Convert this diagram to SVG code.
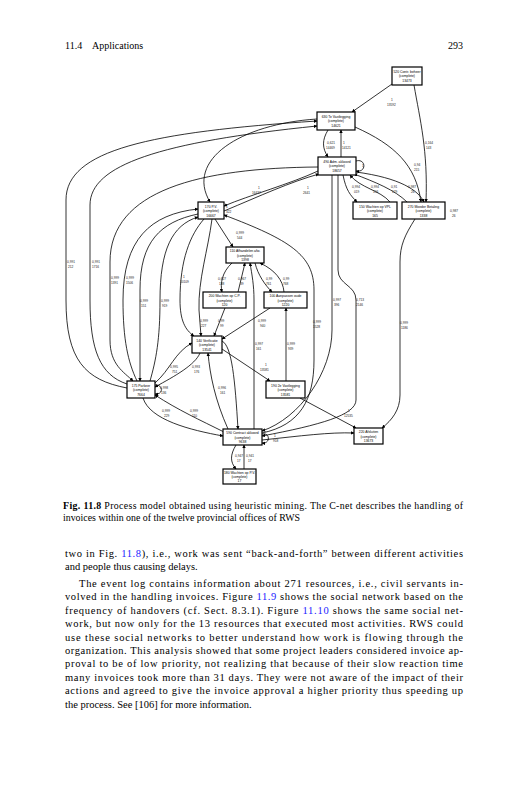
<svg xmlns="http://www.w3.org/2000/svg" width="527" height="800" viewBox="0 0 527 800">
<style>
.bg{fill:#fff}
.nb{fill:#fff;stroke:#000;stroke-width:1.2}
.nt{font-family:"Liberation Sans",Arial,sans-serif;font-size:3.4px;fill:#000;text-anchor:middle}
.e{fill:none;stroke:#000;stroke-width:0.8;marker-end:url(#ah)}
.el{font-family:"Liberation Sans",Arial,sans-serif;font-size:3.2px;fill:#222}
.pg{font-family:"Liberation Serif","Times New Roman",serif;fill:#000}
.lk{fill:#1a1aff}
</style>
<defs>
<marker id="ah" viewBox="0 0 10 10" refX="9" refY="5" markerWidth="3.6" markerHeight="3.6" markerUnits="userSpaceOnUse" orient="auto">
<path d="M0,0 L10,5 L0,10 z" fill="#000"/>
</marker>
</defs>
<rect class="bg" x="0" y="0" width="527" height="800"/>

<g id="header">
<text class="pg" x="65" y="49" font-size="10">11.4</text>
<text class="pg" x="92" y="49" font-size="10">Applications</text>
<text class="pg" x="463" y="49" font-size="10" text-anchor="end">293</text>
</g>

<g id="connectors">
<path class="e" d="M392,84 L352,112"/>
<path class="e" d="M414,85 C420,120 428,150 426,202"/>
<path class="e" d="M355,127 C395,145 416,165 421,202"/>
<path class="e" d="M328,130 C322,140 322,148 328,157"/>
<path class="e" d="M341,157 L341,130"/>
<path class="e" d="M356,161 C366,158 367,173 356,171"/>
<path class="e" d="M343,175 C346,190 350,195 357,202"/>
<path class="e" d="M390,202 C380,190 360,188 350,175"/>
<path class="e" d="M407,202 C395,190 375,182 354,174"/>
<path class="e" d="M356,172 C400,178 418,190 424,202"/>
<path class="e" d="M318,171 C290,184 250,195 224,206"/>
<path class="e" d="M224,211 C260,196 290,182 319,174"/>
<path class="e" d="M317,119 C240,124 185,160 210,202"/>
<path class="e" d="M127,388 C85,380 66,360 66,300 L66,200 C66,150 150,132 317,121"/>
<path class="e" d="M127,384 C100,375 90,350 90,300 L90,205 C90,165 160,142 317,126"/>
<path class="e" d="M318,167 C200,168 110,190 110,262 L110,340 C110,365 124,372 133,381"/>
<path class="e" d="M137,381 C128,362 123,340 123,300 C123,240 150,214 198,209"/>
<path class="e" d="M198,214 C160,222 140,242 140,290 L140,381"/>
<path class="e" d="M150,381 C156,360 160,340 160,300 C160,250 172,225 198,217"/>
<path class="e" d="M204,219 C190,235 180,260 180,300 C180,320 185,330 194,336"/>
<path class="e" d="M212,219 C208,250 198,280 199,310 L201,336"/>
<path class="e" d="M225,308 L214,336"/>
<path class="e" d="M270,308 L222,339"/>
<path class="e" d="M232,263 C222,272 220,284 222,292"/>
<path class="e" d="M238,292 L245,263"/>
<path class="e" d="M255,263 C258,275 265,285 272,292"/>
<path class="e" d="M284,292 C283,280 275,270 260,263"/>
<path class="e" d="M215,219 L233,247"/>
<path class="e" d="M262,433 C300,425 314,400 314,360 L314,290 C314,255 290,240 224,215"/>
<path class="e" d="M332,175 L332,330 C332,372 300,418 262,431"/>
<path class="e" d="M338,175 L338,270 C338,285 356,285 356,300 L356,400 C356,415 320,425 262,436"/>
<path class="e" d="M415,219 C405,235 400,245 400,262 L400,395 C400,410 392,420 382,428"/>
<path class="e" d="M300,398 L356,428"/>
<path class="e" d="M262,440 C300,436 330,432 354,433"/>
<path class="e" d="M262,434 C270,432 271,444 262,443"/>
<path class="e" d="M236,445 C230,455 230,462 236,469"/>
<path class="e" d="M244,469 L244,445"/>
<path class="e" d="M143,398 C150,420 190,430 223,436"/>
<path class="e" d="M224,432 C200,420 178,410 155,395"/>
<path class="e" d="M155,385 C163,384 164,395 155,394"/>
<path class="e" d="M155,383 C170,370 175,352 192,343"/>
<path class="e" d="M200,353 C195,365 175,376 155,387"/>
<path class="e" d="M222,341 C232,346 235,380 238,429"/>
<path class="e" d="M228,429 C215,400 210,375 208,353"/>
<path class="e" d="M254,429 L254,300 C254,285 252,275 250,263"/>
<path class="e" d="M286,381 L286,308"/>
<path class="e" d="M222,349 L270,381"/>
</g>

<g id="edge-labels">
<text class="el" x="391" y="101">1<tspan x="387" dy="4.5">13592</tspan></text>
<text class="el" x="425" y="144">0,164<tspan x="426" dy="4.5">143</tspan></text>
<text class="el" x="414" y="166">0,94<tspan x="414" dy="4.5">215</tspan></text>
<text class="el" x="327" y="144">0,621<tspan x="326" dy="4.5">14469</tspan></text>
<text class="el" x="343" y="144">1<tspan x="342" dy="4.5">14121</tspan></text>
<text class="el" x="362" y="167">1</text>
<text class="el" x="352" y="188">0,994<tspan x="354" dy="4.5">019</tspan></text>
<text class="el" x="371" y="188">0,994<tspan x="373" dy="4.5">156</tspan></text>
<text class="el" x="391" y="188">0,91<tspan x="392" dy="4.5">179</tspan></text>
<text class="el" x="408" y="188">0,987<tspan x="411" dy="4.5">26</tspan></text>
<text class="el" x="450" y="212">0,987<tspan x="452" dy="4.5">26</tspan></text>
<text class="el" x="258" y="189">1<tspan x="252" dy="4.5">16437</tspan></text>
<text class="el" x="307" y="189">1<tspan x="303" dy="4.5">2641</tspan></text>
<text class="el" x="226" y="208">1<tspan x="226" dy="4.5">322</tspan></text>
<text class="el" x="236" y="234">0,999<tspan x="237" dy="4.5">544</tspan></text>
<text class="el" x="67" y="263">0,991<tspan x="68" dy="4.5">212</tspan></text>
<text class="el" x="92" y="263">0,991<tspan x="92" dy="4.5">1716</tspan></text>
<text class="el" x="111" y="279">0,999<tspan x="111" dy="4.5">1391</tspan></text>
<text class="el" x="126" y="279">0,999<tspan x="126" dy="4.5">1506</tspan></text>
<text class="el" x="183" y="278">1<tspan x="180" dy="4.5">10109</tspan></text>
<text class="el" x="140" y="302">0,999<tspan x="141" dy="4.5">151</tspan></text>
<text class="el" x="161" y="302">0,999<tspan x="162" dy="4.5">919</tspan></text>
<text class="el" x="218" y="280">0,627<tspan x="219" dy="4.5">138</tspan></text>
<text class="el" x="238" y="280">0,967<tspan x="240" dy="4.5">39</tspan></text>
<text class="el" x="266" y="280">0,99<tspan x="266" dy="4.5">761</tspan></text>
<text class="el" x="283" y="280">0,99<tspan x="283" dy="4.5">768</tspan></text>
<text class="el" x="200" y="322">0,999<tspan x="201" dy="4.5">227</tspan></text>
<text class="el" x="218" y="322">0,99<tspan x="220" dy="4.5">99</tspan></text>
<text class="el" x="258" y="322">0,999<tspan x="260" dy="4.5">940</tspan></text>
<text class="el" x="313" y="323">0,999<tspan x="313" dy="4.5">1528</tspan></text>
<text class="el" x="333" y="301">0,997<tspan x="334" dy="4.5">396</tspan></text>
<text class="el" x="356" y="301">0,713<tspan x="356" dy="4.5">2146</tspan></text>
<text class="el" x="400" y="324">0,999<tspan x="401" dy="4.5">1186</tspan></text>
<text class="el" x="255" y="345">0,997<tspan x="256" dy="4.5">161</tspan></text>
<text class="el" x="287" y="345">0,999<tspan x="288" dy="4.5">939</tspan></text>
<text class="el" x="265" y="366">1<tspan x="260" dy="4.5">13581</tspan></text>
<text class="el" x="170" y="368">0,995<tspan x="172" dy="4.5">751</tspan></text>
<text class="el" x="192" y="368">0,993<tspan x="194" dy="4.5">176</tspan></text>
<text class="el" x="160" y="389">0,998<tspan x="161" dy="4.5">136</tspan></text>
<text class="el" x="218" y="389">0,996<tspan x="220" dy="4.5">161</tspan></text>
<text class="el" x="162" y="412">0,999<tspan x="164" dy="4.5">229</tspan></text>
<text class="el" x="190" y="412">0,999<tspan x="192" dy="4.5">110</tspan></text>
<text class="el" x="348" y="412">1<tspan x="344" dy="4.5">12535</tspan></text>
<text class="el" x="274" y="437">1<tspan x="273" dy="4.5">918</tspan></text>
<text class="el" x="235" y="457">0,947<tspan x="237" dy="4.5">17</tspan></text>
<text class="el" x="246" y="457">0,941<tspan x="248" dy="4.5">17</tspan></text>
</g>

<g id="n520"><rect class="nb" x="392" y="67" width="30" height="18"/><text class="nt" x="407" y="72.5">520 Contr. beheer</text><text class="nt" x="407" y="77">(complete)</text><text class="nt" x="407" y="81.5">13473</text></g>
<g id="n630"><rect class="nb" x="317" y="112" width="38" height="18"/><text class="nt" x="336" y="117.5">630 Te Vastlegging</text><text class="nt" x="336" y="122">(complete)</text><text class="nt" x="336" y="126.5">14621</text></g>
<g id="n490"><rect class="nb" x="318" y="157" width="38" height="18"/><text class="nt" x="337" y="162.5">490 Adm. akkoord</text><text class="nt" x="337" y="167">(complete)</text><text class="nt" x="337" y="171.5">18657</text></g>
<g id="n170"><rect class="nb" x="198" y="202" width="26" height="17"/><text class="nt" x="211" y="207.5">170 P.V.</text><text class="nt" x="211" y="212">(complete)</text><text class="nt" x="211" y="216.5">16667</text></g>
<g id="n150"><rect class="nb" x="353" y="202" width="44" height="17"/><text class="nt" x="375" y="207.5">150 Wachten op VPL</text><text class="nt" x="375" y="212">(complete)</text><text class="nt" x="375" y="216.5">165</text></g>
<g id="n270"><rect class="nb" x="402" y="202" width="43" height="17"/><text class="nt" x="423.5" y="207.5">270 Moeder Betaling</text><text class="nt" x="423.5" y="212">(complete)</text><text class="nt" x="423.5" y="216.5">1338</text></g>
<g id="n110"><rect class="nb" x="226" y="247" width="38" height="16"/><text class="nt" x="245" y="252">110 Afhandelen afw.</text><text class="nt" x="245" y="256.5">(complete)</text><text class="nt" x="245" y="261">1398</text></g>
<g id="n200"><rect class="nb" x="203" y="292" width="43" height="16"/><text class="nt" x="224.5" y="297">200 Wachten op C.P.</text><text class="nt" x="224.5" y="301.5">(complete)</text><text class="nt" x="224.5" y="306">120</text></g>
<g id="n100"><rect class="nb" x="264" y="292" width="43" height="16"/><text class="nt" x="285.5" y="297">100 Aanpassen oude</text><text class="nt" x="285.5" y="301.5">(complete)</text><text class="nt" x="285.5" y="306">1220</text></g>
<g id="n140"><rect class="nb" x="192" y="336" width="30" height="17"/><text class="nt" x="207" y="341.5">140 Verificatie</text><text class="nt" x="207" y="346">(complete)</text><text class="nt" x="207" y="350.5">13541</text></g>
<g id="n190"><rect class="nb" x="266" y="381" width="39" height="17"/><text class="nt" x="285.5" y="386.5">190 2e Vastlegging</text><text class="nt" x="285.5" y="391">(complete)</text><text class="nt" x="285.5" y="395.5">13581</text></g>
<g id="n175"><rect class="nb" x="127" y="381" width="28" height="17"/><text class="nt" x="141" y="386.5">175 Parkeer</text><text class="nt" x="141" y="391">(complete)</text><text class="nt" x="141" y="395.5">7664</text></g>
<g id="n590"><rect class="nb" x="223" y="429" width="39" height="16"/><text class="nt" x="242.5" y="434">590 Contract akkoord</text><text class="nt" x="242.5" y="438.5">(complete)</text><text class="nt" x="242.5" y="443">9638</text></g>
<g id="n220"><rect class="nb" x="354" y="428" width="29" height="16"/><text class="nt" x="368.5" y="433">220 Afsluiten</text><text class="nt" x="368.5" y="437.5">(complete)</text><text class="nt" x="368.5" y="442">13673</text></g>
<g id="n180"><rect class="nb" x="223" y="469" width="33" height="15"/><text class="nt" x="239.5" y="474">180 Wachten op P.V.</text><text class="nt" x="239.5" y="478">(complete)</text><text class="nt" x="239.5" y="482">17</text></g>

<g id="caption">
<text class="pg" x="63" y="509" font-size="9.9" textLength="400" lengthAdjust="spacing"><tspan font-weight="bold">Fig. 11.8</tspan>  Process model obtained using heuristic mining. The C-net describes the handling of</text>
<text class="pg" x="63" y="521" font-size="9.9">invoices within one of the twelve provincial offices of RWS</text>
</g>

<g id="body">
<text class="pg" x="65" y="557" font-size="10.5" textLength="398" lengthAdjust="spacing">two in Fig. <tspan class="lk">11.8</tspan>), i.e., work was sent “back-and-forth” between different activities</text>
<text class="pg" x="65" y="570.4" font-size="10.5">and people thus causing delays.</text>
<text class="pg" x="79" y="587" font-size="10.5" textLength="384" lengthAdjust="spacing">The event log contains information about 271 resources, i.e., civil servants in-</text>
<text class="pg" x="65" y="600.4" font-size="10.5" textLength="398" lengthAdjust="spacing">volved in the handling invoices. Figure <tspan class="lk">11.9</tspan> shows the social network based on the</text>
<text class="pg" x="65" y="613.8" font-size="10.5" textLength="398" lengthAdjust="spacing">frequency of handovers (cf. Sect. 8.3.1). Figure <tspan class="lk">11.10</tspan> shows the same social net-</text>
<text class="pg" x="65" y="627.2" font-size="10.5" textLength="398" lengthAdjust="spacing">work, but now only for the 13 resources that executed most activities. RWS could</text>
<text class="pg" x="65" y="640.6" font-size="10.5" textLength="398" lengthAdjust="spacing">use these social networks to better understand how work is flowing through the</text>
<text class="pg" x="65" y="654" font-size="10.5" textLength="398" lengthAdjust="spacing">organization. This analysis showed that some project leaders considered invoice ap-</text>
<text class="pg" x="65" y="667.4" font-size="10.5" textLength="398" lengthAdjust="spacing">proval to be of low priority, not realizing that because of their slow reaction time</text>
<text class="pg" x="65" y="680.8" font-size="10.5" textLength="398" lengthAdjust="spacing">many invoices took more than 31 days. They were not aware of the impact of their</text>
<text class="pg" x="65" y="694.2" font-size="10.5" textLength="398" lengthAdjust="spacing">actions and agreed to give the invoice approval a higher priority thus speeding up</text>
<text class="pg" x="65" y="707.6" font-size="10.5">the process. See [106] for more information.</text>
</g>
</svg>
